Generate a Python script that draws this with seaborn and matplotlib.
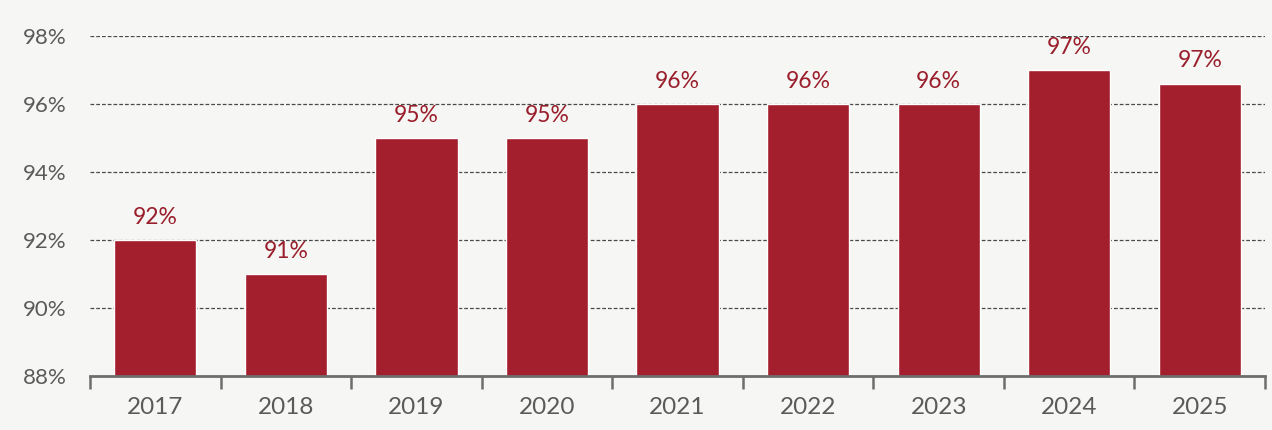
import matplotlib
matplotlib.use("Agg")
import matplotlib.pyplot as plt
import seaborn as sns
import pandas as pd
import numpy as np
from matplotlib.ticker import FixedLocator

years = ["2017", "2018", "2019", "2020", "2021", "2022", "2023", "2024", "2025"]
shares = [92.0, 91.0, 95.0, 95.0, 96.0, 96.0, 96.0, 97.0, 96.6]
y_ticks = [88, 90, 92, 94, 96, 98]

df = pd.DataFrame({"year": years, "share": shares})

bar_color = "#A31F2D"
label_color = "#9A1F2C"
text_grey = "#5a5a5a"
bg = "#F6F6F4"

sns.set_theme(style="white")
plt.rcParams["font.family"] = ["Lato", "DejaVu Sans"]

fig = plt.figure(figsize=(12.72, 4.30), dpi=100, facecolor=bg)
ax = fig.add_axes([0.0708, 0.1256, 0.9237, 0.7907])
ax.set_facecolor(bg)

sns.barplot(data=df, x="year", y="share", order=years, color=bar_color,
            width=0.63, saturation=1, ax=ax, zorder=3)

ax.set_ylim(88, 98)
ax.set_xlim(-0.5, len(years) - 0.5)
ax.set_yticks(y_ticks)
ax.set_yticklabels([f"{t}%" for t in y_ticks])
ax.yaxis.grid(True, linestyle=(0, (3, 1.6)), color="#4a4a4a", linewidth=0.9)
ax.set_axisbelow(True)

for s in ["left", "right", "top"]:
    ax.spines[s].set_visible(False)
ax.spines["bottom"].set_color("#6e6e6e")
ax.spines["bottom"].set_linewidth(2)
ax.spines["bottom"].set_zorder(4)

ax.tick_params(axis="y", length=0, labelsize=16, labelcolor=text_grey, pad=17)
ax.tick_params(axis="x", which="major", bottom=False, length=0, labelsize=17.5,
               labelcolor=text_grey, pad=15)
ax.xaxis.set_minor_locator(FixedLocator(np.arange(-0.5, len(years), 1.0)))
ax.tick_params(axis="x", which="minor", bottom=True, length=9, width=1.8,
               color="#6e6e6e", direction="out")
ax.set_xlabel("")
ax.set_ylabel("")

for i, v in enumerate(shares):
    ax.text(i, v + 0.36, f"{v:.0f}%", ha="center", va="bottom",
            fontsize=16.5, color=label_color, clip_on=False, zorder=5)

fig.savefig("out.png", dpi=100, facecolor=bg)
